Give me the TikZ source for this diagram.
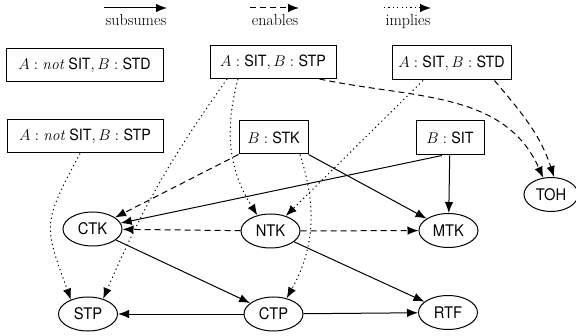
\RequirePackage{fix-cm}
\documentclass[tikz,border=0pt]{standalone}
\usepackage{fontspec}
\setsansfont[FakeStretch=0.92]{TeX Gyre Heros}
\usetikzlibrary{arrows.meta,shapes.geometric}
\tikzset{
  tip/.style={-{Latex[length=11pt,width=8.5pt]}},
  sub/.style={draw, line width=1pt, tip},
  ena/.style={sub, dash pattern=on 6pt off 4pt},
  imp/.style={sub, dash pattern=on 1.2pt off 3.2pt},
  cond/.style={draw, line width=1pt, rectangle, inner sep=0pt, minimum height=33pt, font=\fontsize{15.5}{18}\selectfont},
  act/.style={draw, line width=1pt, ellipse, inner sep=0pt, minimum width=59pt, minimum height=34pt, font=\fontsize{16}{19}\selectfont\sffamily},
  leg/.style={anchor=base, inner sep=0pt}
}
\begin{document}
\begin{tikzpicture}[x=1pt,y=1pt,font=\fontsize{16}{19}\selectfont]
\useasboundingbox (0,0) rectangle (576,335);
% legend
\coordinate (s1) at (104,327); \coordinate (s2) at (167,327);
\coordinate (e1) at (250,327); \coordinate (e2) at (299,327);
\coordinate (i1) at (384,327); \coordinate (i2) at (431,327);
\draw[sub] (s1) -- (s2);
\draw[ena] (e1) -- (e2);
\draw[imp] (i1) -- (i2);
\node[leg] (ls) at (136,309) {subsumes};
\node[leg] (le) at (275,309) {enables};
\node[leg] (li) at (408,309) {implies};
% condition boxes
\node[cond, minimum width=157pt] (anst) at (84.5,269.5) {$A:\mathit{not}\ \textsf{SIT},B:\textsf{STD}$};
\node[cond, minimum width=126pt] (astp) at (273,273) {$A:\textsf{SIT},B:\textsf{STP}$};
\node[cond, minimum width=119pt, minimum height=34pt] (astd) at (451.5,272) {$A:\textsf{SIT},B:\textsf{STD}$};
\node[cond, minimum width=156pt] (ansp) at (85,198.5) {$A:\mathit{not}\ \textsf{SIT},B:\textsf{STP}$};
\node[cond, minimum width=69pt] (bstk) at (273.5,197.5) {$B:\textsf{STK}$};
\node[cond, minimum width=68pt, minimum height=34pt] (bsit) at (450,197) {$B:\textsf{SIT}$};
% ellipses
\node[act] (ctk) at (92.5,106) {CTK};
\node[act] (ntk) at (270.5,104) {NTK};
\node[act] (mtk) at (448.5,104.5) {MTK};
\node[act, minimum width=54pt] (toh) at (551,140.5) {TOH};
\node[act] (stp) at (88,21) {STP};
\node[act] (ctp) at (273.5,21) {CTP};
\node[act] (rtf) at (448,22.5) {RTF};
% subsumes
\draw[sub] ([xshift=-8pt]bsit.south) -- (ctk);
\draw[sub] (bstk.south east) -- (mtk);
\draw[sub] (bsit) -- (mtk);
\draw[sub] (ctk) -- (ctp);
\draw[sub] (ntk) -- (rtf);
\draw[sub] (ctp) -- (stp);
\draw[sub] (ctp) -- (rtf);
% enables
\draw[ena] ([xshift=-17pt]astp.south east) to[out=-12,in=114] (toh.115);
\draw[ena] ([xshift=-17pt]astd.south east) to[out=-50,in=108] (toh.80);
\draw[ena] (bstk.south west) -- (ctk);
\draw[ena] (ntk) -- (ctk);
\draw[ena] (ntk) -- (mtk);
% implies
\draw[imp] ([xshift=-46pt]astp.south) to[bend right=6] (stp.45);
\draw[imp] ([xshift=-35pt]astp.south) to[out=-105,in=122] (ntk.130);
\draw[imp] ([xshift=-28.5pt]astd.south) -- (ntk);
\draw[imp] ([xshift=-5pt]ansp.south) to[out=-118,in=110,looseness=1.4] (stp.140);
\draw[imp] ([xshift=26.5pt]bstk.south) to[out=-72,in=61] (ctp.50);
\end{tikzpicture}
\end{document}
